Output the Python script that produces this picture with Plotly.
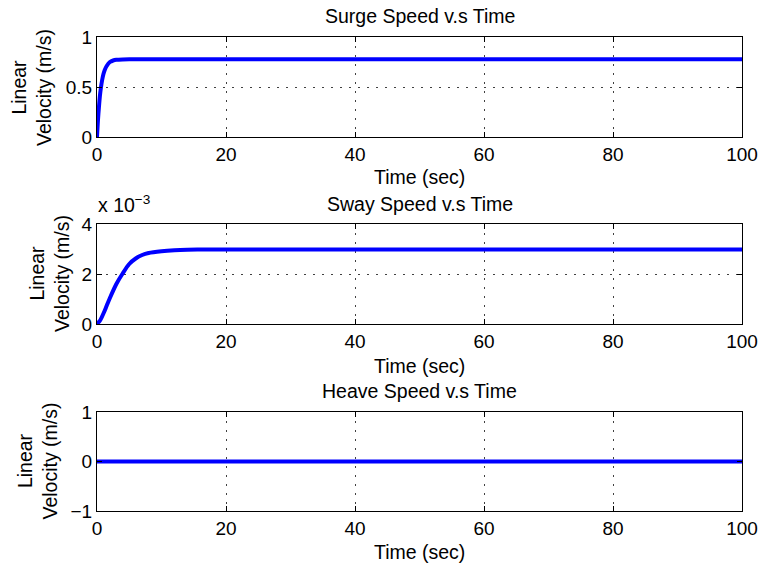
import plotly.graph_objects as go

W, H = 761, 567

# ---- data ----
surge_t = [0, 0.15, 0.3, 0.45, 0.6, 0.8, 1, 1.2, 1.5, 2, 2.5, 3, 4, 5, 6, 8, 10, 20, 40, 60, 80, 100]
surge_v = [0, 0.17, 0.30, 0.41, 0.49, 0.57, 0.63, 0.67, 0.71, 0.75, 0.765, 0.772, 0.776, 0.777,
           0.777, 0.777, 0.777, 0.777, 0.777, 0.777, 0.777, 0.777]

sway_t = [0, 0.5, 1, 1.5, 2, 3, 4, 5, 6, 7, 8, 10, 12, 14, 17, 20, 40, 60, 80, 100]
sway_v = [0, 0.15, 0.42, 0.73, 1.04, 1.6, 2.03, 2.40, 2.62, 2.76, 2.84, 2.91, 2.95, 2.97,
          2.98, 2.98, 2.98, 2.98, 2.98, 2.98]  # x 10^-3 m/s

heave_t = [0, 20, 40, 60, 80, 100]
heave_v = [0, 0, 0, 0, 0, 0]

titles = ["Surge Speed v.s Time", "Sway Speed v.s Time", "Heave Speed v.s Time"]
xticks = [0, 20, 40, 60, 80, 100]
yticks = [[0, 0.5, 1], [0, 2, 4], [-1, 0, 1]]
yticklabels = [["0", "0.5", "1"], ["0", "2", "4"], ["\u22121", "0", "1"]]
yranges = [[0, 1], [0, 4], [-1, 1]]

# ---- layout geometry (pixels) ----
x0, x1 = 97, 742
boxes = [(37, 137), (224, 324), (412, 511)]
title_y = [16, 204, 391]
xlabel_y = [177, 366, 552]
ylabel_x = [31, 49, 37]

def px(x):
    return x / W

def py(y):
    return 1 - y / H

FONT = "Liberation Sans, Arial, Helvetica, sans-serif"
TXT = 19.5
fig = go.Figure()
series = [(surge_t, surge_v), (sway_t, sway_v), (heave_t, heave_v)]
annotations = []
for i, (t, v) in enumerate(series):
    n = "" if i == 0 else str(i + 1)
    fig.add_trace(go.Scatter(x=t, y=v, mode="lines",
                             line=dict(color="#0000ff", width=4, shape="spline", smoothing=0.8),
                             xaxis="x" + n, yaxis="y" + n, showlegend=False, hoverinfo="skip",
                             cliponaxis=True))
    top, bot = boxes[i]
    common = dict(showline=True, linecolor="black", linewidth=1, mirror="ticks",
                  ticks="inside", ticklen=5, tickcolor="black", showgrid=True,
                  gridcolor="#404040", griddash="1.5px,7.5px", gridwidth=1,
                  zeroline=False, automargin=False,
                  tickfont=dict(family=FONT, size=19, color="black"))
    fig.layout["xaxis" + n] = dict(domain=[px(x0), px(x1)], anchor="y" + n, range=[0, 100],
                                   tickvals=xticks, ticktext=[str(x) for x in xticks], **common)
    fig.layout["yaxis" + n] = dict(domain=[py(bot), py(top)], anchor="x" + n, range=yranges[i],
                                   tickvals=yticks[i], ticktext=yticklabels[i], **common)
    annotations.append(dict(text=titles[i], x=px((x0 + x1) / 2), y=py(title_y[i]), xref="paper", yref="paper",
                            xanchor="center", yanchor="middle", showarrow=False,
                            font=dict(family=FONT, size=TXT, color="black")))
    annotations.append(dict(text="Time (sec)", x=px((x0 + x1) / 2), y=py(xlabel_y[i]), xref="paper", yref="paper",
                            xanchor="center", yanchor="middle", showarrow=False,
                            font=dict(family=FONT, size=TXT, color="black")))
    annotations.append(dict(text="Linear<br>Velocity (m/s)", x=px(ylabel_x[i]), y=py((top + bot) / 2),
                            xref="paper", yref="paper", xanchor="center", yanchor="middle",
                            textangle=-90, showarrow=False,
                            font=dict(family=FONT, size=TXT, color="black")))

annotations.append(dict(text="x 10<sup>\u22123</sup>", x=px(96), y=py(218), xref="paper", yref="paper",
                        xanchor="left", yanchor="bottom", showarrow=False,
                        font=dict(family=FONT, size=TXT, color="black")))

fig.update_layout(width=W, height=H, margin=dict(l=0, r=0, t=0, b=0, autoexpand=False),
                  paper_bgcolor="white", plot_bgcolor="white", annotations=annotations,
                  font=dict(family=FONT, size=TXT, color="black"))
fig.write_html("out.html")
